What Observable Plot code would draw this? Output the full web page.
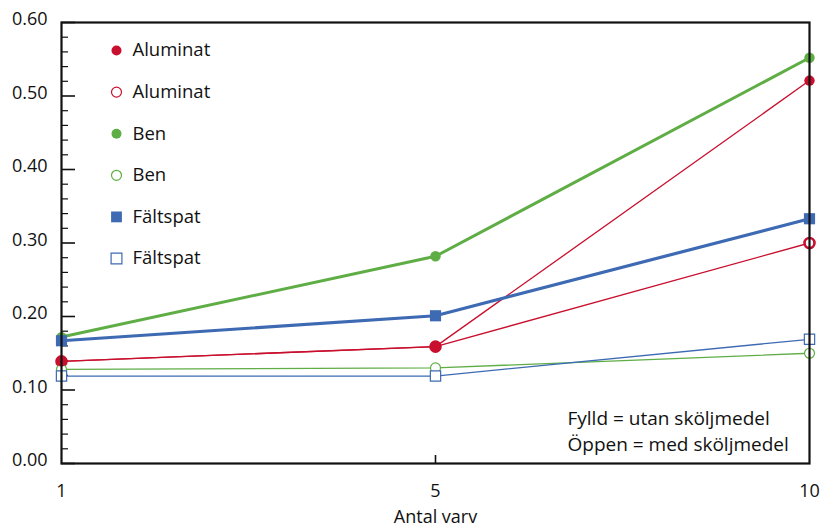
<!DOCTYPE html>
<html><head><meta charset="utf-8">
<script src="https://cdn.jsdelivr.net/npm/d3@7"></script>
<script src="https://cdn.jsdelivr.net/npm/@observablehq/plot@0.6"></script>
<style>body{margin:0;background:#fff} #chart{width:820px;height:528px}</style>
</head><body><div id="chart"></div>
<script>
const rounds = [1, 5, 10];
const aluminatFylld = [0.139, 0.159, 0.521];
const aluminatOppen = [0.139, 0.159, 0.300];
const benFylld = [0.172, 0.282, 0.552];
const benOppen = [0.128, 0.130, 0.150];
const faltspatFylld = [0.167, 0.201, 0.333];
const faltspatOppen = [0.119, 0.119, 0.169];
const yTicks = [0, 0.1, 0.2, 0.3, 0.4, 0.5, 0.6];
const yMinorTicks = [0.02,0.04,0.06,0.08,0.12,0.14,0.16,0.18,0.22,0.24,0.26,0.28,0.32,0.34,0.36,0.38,0.42,0.44,0.46,0.48,0.52,0.54,0.56,0.58];
const xLabel = "Antal varv";
const note = "Fylld = utan sköljmedel\nÖppen = med sköljmedel";

const RED = "#c8102e", GREEN = "#5fad45", BLUE = "#3d6ab3";
const series = [
  {name: "Aluminat", values: aluminatOppen, color: RED, filled: false, symbol: "circle", lw: 1.3},
  {name: "Ben", values: benOppen, color: GREEN, filled: false, symbol: "circle", lw: 1.3},
  {name: "Fältspat", values: faltspatOppen, color: BLUE, filled: false, symbol: "square", lw: 1.3},
  {name: "Aluminat", values: aluminatFylld, color: RED, filled: true, symbol: "circle", lw: 1.3},
  {name: "Ben", values: benFylld, color: GREEN, filled: true, symbol: "circle", lw: 3},
  {name: "Fältspat", values: faltspatFylld, color: BLUE, filled: true, symbol: "square", lw: 3.2}
];
const legendOrder = [
  {name: "Aluminat", color: RED, filled: true, symbol: "circle"},
  {name: "Aluminat", color: RED, filled: false, symbol: "circle"},
  {name: "Ben", color: GREEN, filled: true, symbol: "circle"},
  {name: "Ben", color: GREEN, filled: false, symbol: "circle"},
  {name: "Fältspat", color: BLUE, filled: true, symbol: "square"},
  {name: "Fältspat", color: BLUE, filled: false, symbol: "square"}
];

const marks = [];
for (const s of series) {
  const rows = rounds.map((r, i) => ({x: r, y: s.values[i]}));
  marks.push(Plot.line(rows, {x: "x", y: "y", stroke: s.color, strokeWidth: s.lw}));
}
for (const s of series) {
  const rows = rounds.map((r, i) => ({x: r, y: s.values[i]}));
  const isSq = s.symbol === "square";
  if (s.filled) {
    marks.push(Plot.dot(rows, {x: "x", y: "y", symbol: s.symbol, r: isSq ? 6.3 : 5.2, fill: s.color, stroke: "none"}));
  } else {
    marks.push(Plot.dot(rows, {x: "x", y: "y", symbol: s.symbol, r: isSq ? 5.8 : 5,
      fill: "white", stroke: s.color, strokeWidth: s.name === "Aluminat" ? 2.6 : 1.2}));
  }
}
legendOrder.forEach((s, i) => {
  const isSq = s.symbol === "square";
  marks.push(Plot.dot([0], {frameAnchor: "top-left", dx: 55, dy: 28 + 41.6 * i, symbol: s.symbol,
    r: isSq ? 6.1 : 5, fill: s.filled ? s.color : "white", stroke: s.filled ? "none" : s.color, strokeWidth: 1.2}));
  marks.push(Plot.text([s.name], {frameAnchor: "top-left", dx: 71, dy: 28 + 41.6 * i, textAnchor: "start", lineAnchor: "middle", fill: "#111", fontSize: 18.5}));
});

const chart = Plot.plot({
  width: 820, height: 528,
  marginLeft: 61, marginRight: 11, marginTop: 22, marginBottom: 65,
  style: {fontFamily: "'Open Sans', sans-serif", fontSize: "18px", color: "#111", background: "white"},
  x: {type: "point", domain: rounds, padding: 0},
  y: {domain: [0, 0.6]},
  marks: [
    Plot.axisY({ticks: yMinorTicks, tickSize: 7, dx: 7, fill: "none", label: null, strokeWidth: 1.2}),
    Plot.axisY({ticks: yTicks, tickSize: 14, dx: 14, fill: "none", label: null, strokeWidth: 1.6}),
    Plot.axisY({ticks: yTicks, tickSize: 0, tickPadding: 14, tickFormat: ".2f", dy: -3, label: null}),
    Plot.axisX({ticks: [5], tickSize: 8, dy: -8, fill: "none", label: null, strokeWidth: 1.6}),
    Plot.axisX({ticks: rounds, tickSize: 0, tickPadding: 21, label: null}),
    Plot.text([xLabel], {frameAnchor: "bottom", dy: 59, lineAnchor: "bottom"}),
    Plot.text([note], {frameAnchor: "bottom-right", textAnchor: "start", dx: -242, dy: -13, lineAnchor: "bottom", lineHeight: 1.33, fontSize: 19}),
    ...marks,
    Plot.frame({strokeWidth: 2.2})
  ]
});
document.getElementById("chart").appendChild(chart);
</script>
</body></html>
